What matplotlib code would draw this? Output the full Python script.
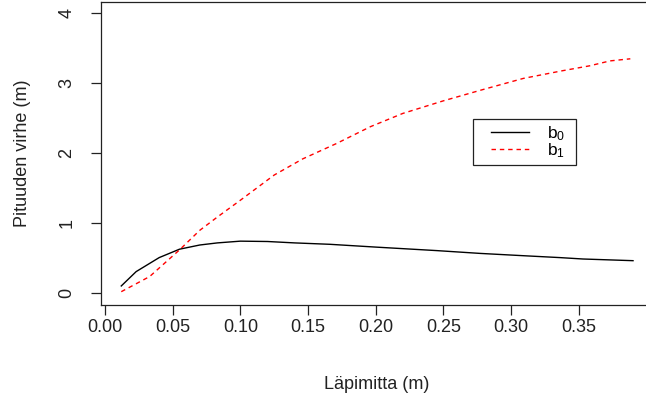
import matplotlib
matplotlib.use('Agg')
import matplotlib.pyplot as plt
import matplotlib.patches as patches

plt.rcParams['font.family'] = ['Liberation Sans', 'DejaVu Sans']
plt.rcParams['mathtext.fontset'] = 'custom'
plt.rcParams['mathtext.rm'] = 'Liberation Sans'
plt.rcParams['mathtext.it'] = 'Liberation Sans'

# b0 - jatkuva musta viiva
x_b0 = [0.012, 0.023, 0.040, 0.055, 0.070, 0.083, 0.100, 0.120, 0.140, 0.166,
        0.200, 0.245, 0.277, 0.311, 0.336, 0.353, 0.390]
y_b0 = [0.105, 0.31, 0.51, 0.63, 0.69, 0.72, 0.745, 0.74, 0.72, 0.70,
        0.66, 0.61, 0.57, 0.535, 0.51, 0.49, 0.466]

# b1 - punainen katkoviiva
x_b1 = [0.012, 0.033, 0.055, 0.070, 0.083, 0.100, 0.125, 0.146, 0.171, 0.196,
        0.220, 0.250, 0.279, 0.309, 0.338, 0.358, 0.373, 0.388]
y_b1 = [0.023, 0.24, 0.62, 0.90, 1.09, 1.33, 1.69, 1.92, 2.14, 2.38,
        2.57, 2.75, 2.91, 3.07, 3.18, 3.25, 3.32, 3.35]

x_ticks = [0.00, 0.05, 0.10, 0.15, 0.20, 0.25, 0.30, 0.35]
x_ticklabels = ['0.00', '0.05', '0.10', '0.15', '0.20', '0.25', '0.30', '0.35']
y_ticks = [0, 1, 2, 3, 4]

FS = 13

W, H = 646, 403
fig = plt.figure(figsize=(W / 100, H / 100), dpi=100)
# akselin paikka pikseleinä (R-tyylinen, oikea reuna kuvan ulkopuolella)
left_px, right_px, bottom_px, top_px = 100.8, 653.5, 304.5, 2.1
ax = fig.add_axes([left_px / W, (H - bottom_px) / H,
                   (right_px - left_px) / W, (bottom_px - top_px) / H])

def px2ax(px, py):
    return ((px - left_px) / (right_px - left_px),
            (bottom_px - py) / (bottom_px - top_px))

ax.plot(x_b0, y_b0, color='black', lw=1.0, label=r'$\mathrm{b}_0$')
ax.plot(x_b1, y_b1, color='red', lw=1.0, dashes=(3.2, 2.8), label=r'$\mathrm{b}_1$')

# R:n 4 % marginaali
xmin, xmax = min(x_b0 + x_b1), max(x_b0 + x_b1)
pad = 0.04 * (xmax - xmin)
ax.set_xlim(xmin - pad, xmax + pad)
ax.set_ylim(-0.16, 4.16)

ax.set_xticks(x_ticks)
ax.set_xticklabels(x_ticklabels)
ax.set_yticks(y_ticks)
ax.set_yticklabels([str(v) for v in y_ticks], rotation=90, va='center')
ax.tick_params(axis='both', direction='out', length=7.2, width=0.9,
               color='#222222', labelsize=FS, labelcolor='#222222')
ax.tick_params(axis='x', pad=3.5)
ax.tick_params(axis='y', pad=11)
for s in ax.spines.values():
    s.set_color('#222222')
    s.set_linewidth(0.9)

ax.set_xlabel('Läpimitta (m)', fontsize=FS, color='#222222')
ax.xaxis.set_label_coords(0.5, -0.264)
ax.xaxis.label.set_va('center')
ax.set_ylabel('Pituuden virhe (m)', fontsize=FS, color='#222222')
ax.yaxis.set_label_coords(-0.141, 0.5)
ax.yaxis.label.set_va('center')

# selite: kehys erikseen, jotta vaaka- ja pystyreunus voivat erota
leg = ax.legend(loc='center left', bbox_to_anchor=px2ax(491, 142),
                fontsize=12.5, frameon=False, handlelength=2.2,
                handletextpad=1.0, labelspacing=-0.08, borderpad=0,
                borderaxespad=0)
x0, y0 = px2ax(473, 165)
x1, y1 = px2ax(576, 119)
ax.add_patch(patches.Rectangle((x0, y0), x1 - x0, y1 - y0,
                               transform=ax.transAxes, fill=False,
                               edgecolor='#222222', lw=0.9, zorder=5))

fig.savefig('out.png', dpi=100)
